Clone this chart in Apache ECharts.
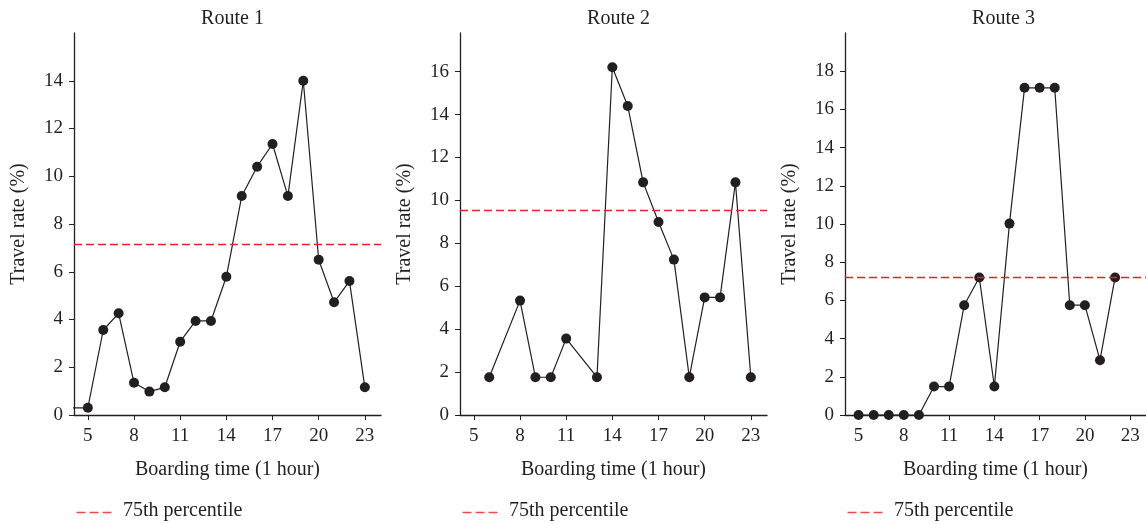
<!DOCTYPE html>
<html>
<head>
<meta charset="utf-8">
<script src="https://cdn.jsdelivr.net/npm/echarts@6/dist/echarts.min.js"></script>
<style>
html,body{margin:0;padding:0;background:#fff;}
#chart{width:1146px;height:524px;}
</style>
</head>
<body>
<div id="chart"></div>
<script>
// ---- data ----
const titles = ['Route 1', 'Route 2', 'Route 3'];
const xTickLabels = [5, 8, 11, 14, 17, 20, 23];

const hours1 = [4, 5, 6, 7, 8, 9, 10, 11, 12, 13, 14, 15, 16, 17, 18, 19, 20, 21, 22, 23];
const rate1  = [0.3, 0.3, 3.56, 4.26, 1.35, 0.98, 1.16, 3.07, 3.94, 3.94, 5.79, 9.17, 10.4, 11.35, 9.17, 14.0, 6.5, 4.72, 5.61, 1.16];

const hours2 = [6, 8, 9, 10, 11, 13, 14, 15, 16, 17, 18, 19, 20, 21, 22, 23];
const rate2  = [1.76, 5.33, 1.76, 1.76, 3.56, 1.76, 16.2, 14.4, 10.84, 8.99, 7.24, 1.76, 5.48, 5.48, 10.84, 1.76];

const hours3 = [5, 6, 7, 8, 9, 10, 11, 12, 13, 14, 15, 16, 17, 18, 19, 20, 21, 22];
const rate3  = [0, 0, 0, 0, 0, 1.49, 1.49, 5.75, 7.2, 1.49, 10.02, 17.13, 17.13, 17.13, 5.75, 5.75, 2.87, 7.2];

const p75 = [7.17, 9.54, 7.2];

const yTicks1 = [0, 2, 4, 6, 8, 10, 12, 14];
const yTicks2 = [0, 2, 4, 6, 8, 10, 12, 14, 16];
const yTicks3 = [0, 2, 4, 6, 8, 10, 12, 14, 16, 18];
const yMax = [16, 17.8, 20];

const xName = 'Boarding time (1 hour)';
const yName = 'Travel rate (%)';
const legendName = '75th percentile';

// ---- layout ----
const FONT = "'Liberation Serif', 'DejaVu Serif', serif";
const TXT = '#231f20';
const gridLefts = [74, 460, 845];
const GW = 307, GT = 33, GH = 382;

const hoursAll = [hours1, hours2, hours3];
const ratesAll = [rate1, rate2, rate3];
const yTicksAll = [yTicks1, yTicks2, yTicks3];

const grids = [], xAxes = [], yAxes = [], series = [], titleArr = [], graphics = [];
for (let i = 0; i < 3; i++) {
  grids.push({left: gridLefts[i], top: GT, width: GW, height: GH, containLabel: false});
  xAxes.push({
    type: 'value', gridIndex: i, min: 4.1, max: 24.05,
    name: xName, nameLocation: 'middle', nameGap: 45,
    nameTextStyle: {fontFamily: FONT, fontSize: 20, color: TXT},
    axisLine: {show: true, onZero: false, lineStyle: {color: TXT, width: 1.3}},
    axisTick: {show: true, length: 5, customValues: xTickLabels, lineStyle: {color: TXT, width: 1}},
    axisLabel: {customValues: xTickLabels, fontFamily: FONT, fontSize: 19, color: TXT, margin: 12},
    splitLine: {show: false}
  });
  yAxes.push({
    type: 'value', gridIndex: i, min: 0, max: yMax[i],
    name: yName, nameLocation: 'middle', nameGap: 45,
    nameTextStyle: {fontFamily: FONT, fontSize: 20, color: TXT},
    axisLine: {show: true, lineStyle: {color: TXT, width: 1.3}},
    axisTick: {show: true, length: 5, customValues: yTicksAll[i], lineStyle: {color: TXT, width: 1}},
    axisLabel: {customValues: yTicksAll[i], fontFamily: FONT, fontSize: 19, color: TXT, margin: 11},
    splitLine: {show: false}
  });
  series.push({
    type: 'line', xAxisIndex: i, yAxisIndex: i, clip: true,
    data: hoursAll[i].map((h, k) => [h, ratesAll[i][k]]),
    symbol: 'circle', symbolSize: 10,
    itemStyle: {color: TXT},
    lineStyle: {color: TXT, width: 1.2},
    markLine: {
      silent: true, symbol: 'none', label: {show: false},
      lineStyle: {color: '#e8202a', type: [8, 4], width: 1.3},
      data: [{yAxis: p75[i]}]
    },
    animation: false
  });
  titleArr.push({
    text: titles[i], left: gridLefts[i] + GW / 2, top: 4, textAlign: 'center',
    textStyle: {fontFamily: FONT, fontSize: 20, fontWeight: 'normal', color: TXT}
  });
  graphics.push({
    type: 'line', left: gridLefts[i], top: 510,
    shape: {x1: 0, y1: 0, x2: 35, y2: 0},
    style: {stroke: '#ef4a4a', lineWidth: 1.4, lineDash: [9, 4]}
  });
  graphics.push({
    type: 'text', left: gridLefts[i] + 49, top: 501,
    style: {text: legendName, fontFamily: FONT, fontSize: 20, fill: TXT}
  });
}

const chart = echarts.init(document.getElementById('chart'), null, {renderer: 'canvas'});
chart.setOption({
  animation: false,
  backgroundColor: '#fff',
  title: titleArr,
  grid: grids,
  xAxis: xAxes,
  yAxis: yAxes,
  series: series,
  graphic: graphics
});
</script>
</body>
</html>
